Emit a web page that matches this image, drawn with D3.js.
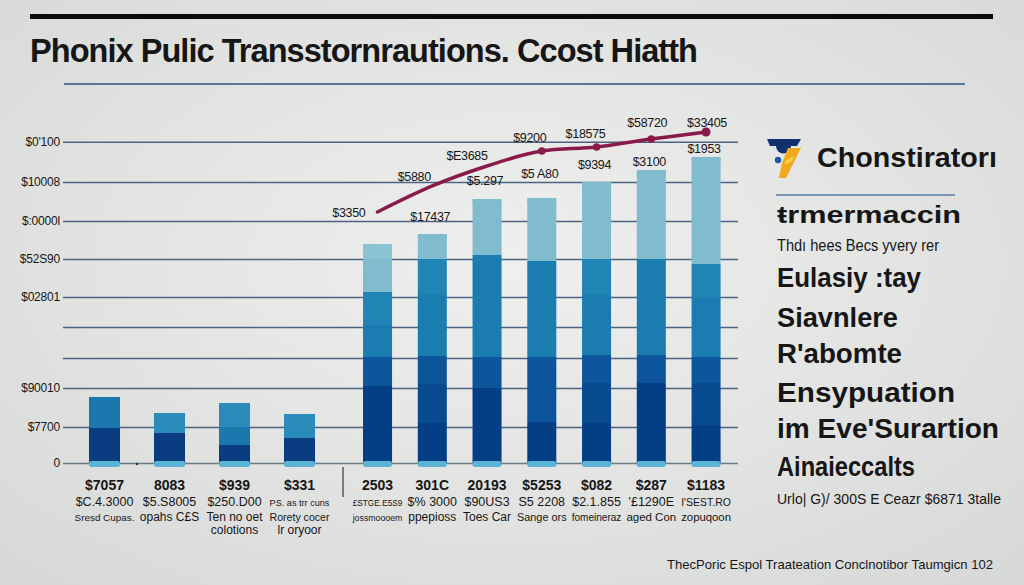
<!DOCTYPE html>
<html lang="en">
<head>
  <meta charset="utf-8">
  <title>transport cost chart</title>
  <script src="https://cdn.jsdelivr.net/npm/d3@7"></script>
  <style>
  * { margin:0; padding:0; }
  body { width:1024px; height:585px; overflow:hidden; background:#e6e7e5; }
  text { font-family: "Liberation Sans", Arial, sans-serif; fill:#161616; }
  </style>
</head>
<body>
<div id="chart"></div>
<script type="text/javascript">
  // ---- data ----
  var leftCats = ["L1","L2","L3","L4"];
  var rightCats = ["R1","R2","R3","R4","R5","R6","R7"];

  // stacked segments: cumulative tops, bottom to top, with shade key
  var leftStacks = [
    [[1087,"navy"],[2050,"blue"]],
    [[932,"navy"],[1553,"teal"]],
    [[559,"navy"],[1118,"blue"],[1863,"teal"]],
    [[776,"navy"],[1522,"teal"]]
  ];
  var rightStacks = [
    [[2391,"s0"],[3292,"s1"],[4286,"s3"],[5311,"s4"],[6336,"s5"],[6801,"s6"]],
    [[1242,"s0"],[2453,"s0b"],[3323,"s1"],[5217,"s3"],[6336,"s4"],[7112,"s5"]],
    [[2329,"s0"],[3292,"s1"],[6460,"s3"],[8199,"s5"]],
    [[1273,"s0"],[3292,"s1"],[6273,"s3"],[8230,"s5"]],
    [[1242,"s0"],[2484,"s0b"],[3354,"s1"],[5217,"s3"],[6336,"s4"],[8727,"s5"]],
    [[2484,"s0"],[3354,"s1"],[6336,"s3"],[9099,"s5"]],
    [[1180,"s0"],[2484,"s0b"],[3292,"s1"],[5124,"s3"],[6180,"s4"],[9503,"s5"]]
  ];

  var lineValues = [7796, 8604, 9224, 9690, 9814, 10063, 10280];
  var lineLabels = ["$3350","$5880","$E3685","$9200","$18575","$58720","$33405"];
  var barLabels = ["","$17437","$5.297","$5 A80","$9394","$3100","$1953"];

  var yTickValues = [0, 1118, 2329, 3261, 4224, 5155, 6336, 7516, 8727, 9978];
  var yTickLabels = ["0","$7700","$90010","","","$02801","$52S90","$:0000l","$10008","$0'100"];

  var leftRow1 = ["$7057","8083","$939","$331"];
  var leftRow2 = ["$C.4.3000","$5.S8005","$250.D00","PS. as trr cuns"];
  var leftRow3 = ["Sresd Cupas.","opahs C£S","Ten no oet","Rorety cocer"];
  var leftRow4 = ["","","colotions","lr oryoor"];
  var rightRow1 = ["2503","301C","20193","$5253","$082","$287","$1183"];
  var rightRow2 = ["£STGE.E5S9","$% 3000","$90US3","S5 2208","$2.1.855","'£1290E","I'SEST.RO"];
  var rightRow3 = ["jossmoooem","ppepioss","Toes Car","Sange ors","fomeineraz","aged Con","zopuqoon"];

  var title = "Phonix Pulic Transstornrautions. Ccost Hiatth";
  var sideHead = "Chonstiratorı";
  var sideLines = ["ŧrmermaccin","Thdı hees Becs yvery rer","Eulasiy :tay","Siavnlere","R'abomte",
                   "Ensypuation","im Eve'Surartion","Ainaieccalts","Urlo| G)/ 300S E Ceazr $6871 3talle"];
  var footer = "ThecPoric Espol Traateation Conclnotibor Taumgicn 102";

  // ---- styles ----
  var shades = {navy:"#0a3c80", blue:"#1a78ad", teal:"#2a8cb8",
                s0:"#043f86", s0b:"#074a90", s1:"#0c559a", s3:"#1b7cb0", s4:"#2085b5",
                s5:"#80bbce", s6:"#8cc3d3"};

  var W = 1024, H = 585;
  var svg = d3.select("#chart").append("svg").attr("width", W).attr("height", H);

  var defs = svg.append("defs");
  var bg = defs.append("radialGradient").attr("id","bg").attr("cx","50%").attr("cy","45%").attr("r","75%");
  bg.append("stop").attr("offset","0%").attr("stop-color","#eff0ee");
  bg.append("stop").attr("offset","100%").attr("stop-color","#d6d8d7");
  svg.append("rect").attr("width",W).attr("height",H).attr("fill","url(#bg)");

  // header
  svg.append("rect").attr("x",30).attr("y",14).attr("width",963).attr("height",5).attr("fill","#0b0b0b");
  svg.append("text").attr("x",30).attr("y",62)
    .attr("textLength",667).attr("lengthAdjust","spacingAndGlyphs")
    .style("font-family",'"Liberation Sans Narrow", "Liberation Sans", Arial, sans-serif')
    .style("font-size","34px").style("font-weight","bold").style("letter-spacing","-1px")
    .text(title);
  svg.append("line").attr("x1",64).attr("x2",965).attr("y1",84).attr("y2",84)
    .attr("stroke","#5a7597").attr("stroke-width",2);

  // scales
  var y = d3.scaleLinear().domain([0,10000]).range([463,141]);
  var xl = d3.scaleBand().domain(leftCats).range([72,332]).paddingInner(0.523).paddingOuter(0.2615);
  var xr = d3.scaleBand().domain(rightCats).range([346.6,737]).paddingInner(0.47).paddingOuter(0.3);

  // gridlines + tick labels
  var yAxis = d3.axisLeft(y).tickValues(yTickValues)
    .tickFormat(function(d,i){ return yTickLabels[i]; })
    .tickSize(-(738-63)).tickPadding(3);
  var ga = svg.append("g").attr("transform","translate(63,0)").call(yAxis);
  ga.select(".domain").remove();
  ga.selectAll(".tick line").attr("stroke","#4c6384").attr("stroke-width",1.5);
  ga.selectAll(".tick text").style("font-size","12px").attr("fill","#1c1c1c")
    .style("letter-spacing","-0.2px")
    .style("font-family",'"Liberation Sans", Arial, sans-serif');
  ga.selectAll(".tick").filter(function(d){ return d===0; }).select("line")
    .attr("stroke","#6c7a88");

  // bars
  function drawStacks(stacks, cats, xs) {
    stacks.forEach(function(stack, i){
      var g = svg.append("g");
      var x0 = xs(cats[i]), bw = xs.bandwidth();
      var prev = 0;
      var segs = stack.map(function(s){ var seg = {lo:prev, hi:s[0], c:s[1]}; prev = s[0]; return seg; });
      g.selectAll("rect.seg").data(segs).join("rect").attr("class","seg")
        .attr("x",x0).attr("width",bw)
        .attr("y",function(d){ return y(d.hi); })
        .attr("height",function(d){ return y(d.lo)-y(d.hi); })
        .attr("fill",function(d){ return shades[d.c]; });
      // rounded cap on the top segment
      var top = segs[segs.length-1];
      g.append("rect").attr("x",x0).attr("width",bw).attr("y",y(top.hi)).attr("height",6)
        .attr("rx",2.5).attr("fill",shades[top.c]);
      // light base strip
      g.append("rect").attr("x",x0).attr("width",bw).attr("y",y(0)-2).attr("height",6)
        .attr("rx",2.5).attr("fill","#5bb3d6");
    });
  }
  drawStacks(leftStacks, leftCats, xl);
  drawStacks(rightStacks, rightCats, xr);

  // small baseline marks + separator
  svg.append("circle").attr("cx",137).attr("cy",y(0)+1).attr("r",1.2).attr("fill","#333");
  svg.append("line").attr("x1",343).attr("x2",343).attr("y1",y(0)+4).attr("y2",497)
    .attr("stroke","#444").attr("stroke-width",1.3);

  // cost line
  var cx = function(i){ return xr(rightCats[i]) + xr.bandwidth()/2; };
  var line = d3.line().x(function(d,i){ return cx(i); }).y(function(d){ return y(d); })
    .curve(d3.curveMonotoneX);
  svg.append("path").datum(lineValues).attr("d",line).attr("fill","none")
    .attr("stroke","#8a1a4a").attr("stroke-width",3.5).attr("stroke-linecap","round");
  svg.selectAll("circle.pt").data(lineValues.slice(3)).join("circle").attr("class","pt")
    .attr("cx",function(d,i){ return cx(i+3); }).attr("cy",function(d){ return y(d); })
    .attr("r",function(d,i){ return i===3 ? 4.5 : 3.8; }).attr("fill","#8a1a4a");

  // label offsets (layout only)
  var lineLabelDx = [-12,-18,-20,-12,-11,-4,1];
  var lineLabelDy = [1,-9,-10,-13,-13,-16,-9];
  var lineLabelAnchor = ["end","middle","middle","middle","middle","middle","middle"];
  svg.selectAll("text.ll").data(lineLabels).join("text").attr("class","ll")
    .attr("x",function(d,i){ return cx(i)+lineLabelDx[i]; })
    .attr("y",function(d,i){ return y(lineValues[i])+lineLabelDy[i]+4; })
    .attr("text-anchor",function(d,i){ return lineLabelAnchor[i]; })
    .style("font-size","12.5px").style("letter-spacing","-0.3px").text(function(d){ return d; });

  var barLabelDy = [0,-17,-18,-24,-17,-8,-8];
  var barTops = rightStacks.map(function(s){ return s[s.length-1][0]; });
  svg.selectAll("text.bl").data(barLabels).join("text").attr("class","bl")
    .attr("x",function(d,i){ return cx(i)-2; })
    .attr("y",function(d,i){ return y(barTops[i])+barLabelDy[i]+4; })
    .attr("text-anchor","middle")
    .style("font-size","12.5px").style("letter-spacing","-0.3px").text(function(d){ return d; });

  // category labels, font shrunk to fit their slot
  function catRows(cats, xs, rows) {
    var sizes = [14, 12.5, 12, 12], ys = [490, 506, 521, 534];
    var maxW = xs.step() - 5;
    rows.forEach(function(row, r){
      svg.selectAll(null).data(row).join("text")
        .attr("x",function(d,i){ return xs(cats[i]) + xs.bandwidth()/2; })
        .attr("y",ys[r]).attr("text-anchor","middle")
        .style("font-size",sizes[r]+"px")
        .style("font-weight", r===0 ? "bold" : "normal")
        .attr("fill","#1a1a1a")
        .text(function(d){ return d; })
        .each(function(){
          var w = this.getComputedTextLength();
          if (w > maxW) d3.select(this).style("font-size", (sizes[r]*maxW/w).toFixed(2)+"px");
        });
    });
  }
  catRows(leftCats, xl, [leftRow1,leftRow2,leftRow3,leftRow4]);
  catRows(rightCats, xr, [rightRow1,rightRow2,rightRow3]);

  // side panel logo
  var logo = svg.append("g");
  logo.append("path").attr("d","M767,139 L801,139 L797,146 L770,146 Z").attr("fill","#11306e");
  logo.append("path").attr("d","M776,146 A7.5,7.5 0 0 0 791,146 Z").attr("fill","#11306e");
  logo.append("circle").attr("cx",778).attr("cy",160).attr("r",3.2).attr("fill","#1f57a6");
  logo.append("path").attr("d","M788,148 L801,148 L786,178 L779,178 L782,163 Z").attr("fill","#f2a91e");
  logo.append("path").attr("d","M786,160 L794,156 L792,161 L785,165 Z").attr("fill","#ffd04a");

  svg.append("text").attr("x",817).attr("y",167)
    .attr("textLength",180).attr("lengthAdjust","spacingAndGlyphs")
    .style("font-size","27px").style("font-weight","bold").text(sideHead);
  svg.append("line").attr("x1",776).attr("x2",955).attr("y1",195).attr("y2",195)
    .attr("stroke","#5a7a9e").attr("stroke-width",1.6);

  var sideY = [223, 251, 287, 327, 363, 402, 438, 476, 504];
  var sideW = [184, 162, 144, 121, 125, 178, 222, 138, 224];
  var sideSize = [23, 16, 28, 27, 27, 27, 27, 27, 14.5];
  var sideBold = [1, 0, 1, 1, 1, 1, 1, 1, 0];
  svg.selectAll("text.side").data(sideLines).join("text").attr("class","side")
    .attr("x",777).attr("y",function(d,i){ return sideY[i]; })
    .attr("textLength",function(d,i){ return sideW[i]; }).attr("lengthAdjust","spacingAndGlyphs")
    .style("font-size",function(d,i){ return sideSize[i]+"px"; })
    .style("font-weight",function(d,i){ return sideBold[i] ? "bold" : "normal"; })
    .text(function(d){ return d; });

  svg.append("text").attr("x",667).attr("y",569)
    .attr("textLength",326).attr("lengthAdjust","spacingAndGlyphs")
    .style("font-size","13.5px").text(footer);
</script>
</body>
</html>
